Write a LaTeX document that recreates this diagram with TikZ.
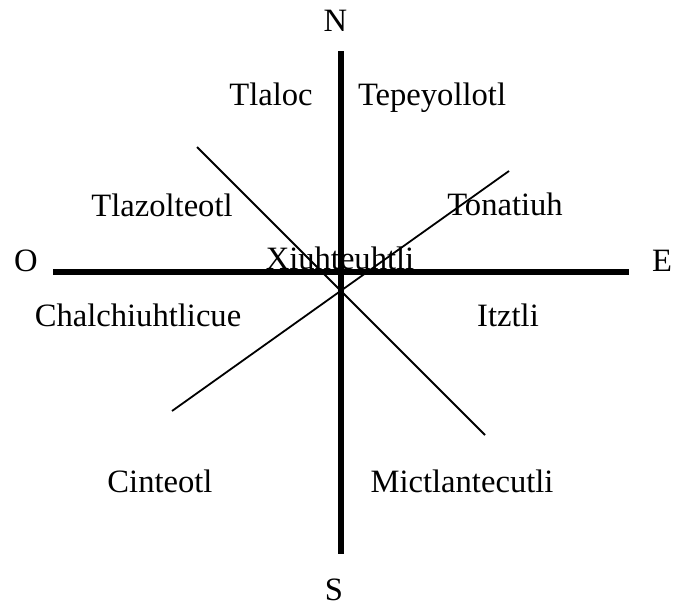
\documentclass[tikz,border=0pt]{standalone}
\usepackage{fontspec}
\setmainfont{Liberation Serif}
\usepackage{tikz}
\usetikzlibrary{positioning}

\begin{document}
\begin{tikzpicture}[x=0.5pt,y=-0.5pt,
  lbl/.style={anchor=base,inner sep=0pt,font=\fontsize{16.3}{19}\selectfont},
  axis/.style={line width=3pt,black},
  diag/.style={line width=0.9pt,black}]
  \useasboundingbox (0,0) rectangle (673,605);
  % axis ends
  \coordinate (nn) at (340.5,51);
  \coordinate (ss) at (340.5,554);
  \coordinate (ww) at (53,272);
  \coordinate (ee) at (629,272);
  \coordinate (d1a) at (197,147);
  \coordinate (d1b) at (485,435);
  \coordinate (d2a) at (172,411);
  \coordinate (d2b) at (509,171);
  \draw[axis] (nn)--(ss);
  \draw[axis] (ww)--(ee);
  \draw[diag] (d1a)--(d1b);
  \draw[diag] (d2a)--(d2b);
  % cardinal points
  \node[lbl] (north) at (335.5,32) {N};
  \node[lbl] (south) at (334,600) {S};
  \node[lbl] (west) at (26,271) {O};
  \node[lbl] (east) at (662,271) {E};
  % gods
  \node[lbl] (tlaloc) at (271,105) {Tlaloc};
  \node[lbl] (tepeyollotl) at (432,105) {Tepeyollotl};
  \node[lbl] (tlazolteotl) at (162,216) {Tlazolteotl};
  \node[lbl] (tonatiuh) at (505,215) {Tonatiuh};
  \node[lbl] (xiuhteuhtli) at (340,269) {Xiuhteuhtli};
  \node[lbl] (chalchiuhtlicue) at (138,326) {Chalchiuhtlicue};
  \node[lbl] (itztli) at (508,326) {Itztli};
  \node[lbl] (cinteotl) at (160,492) {Cinteotl};
  \node[lbl] (mictlantecutli) at (462,492) {Mictlantecutli};
\end{tikzpicture}
\end{document}
